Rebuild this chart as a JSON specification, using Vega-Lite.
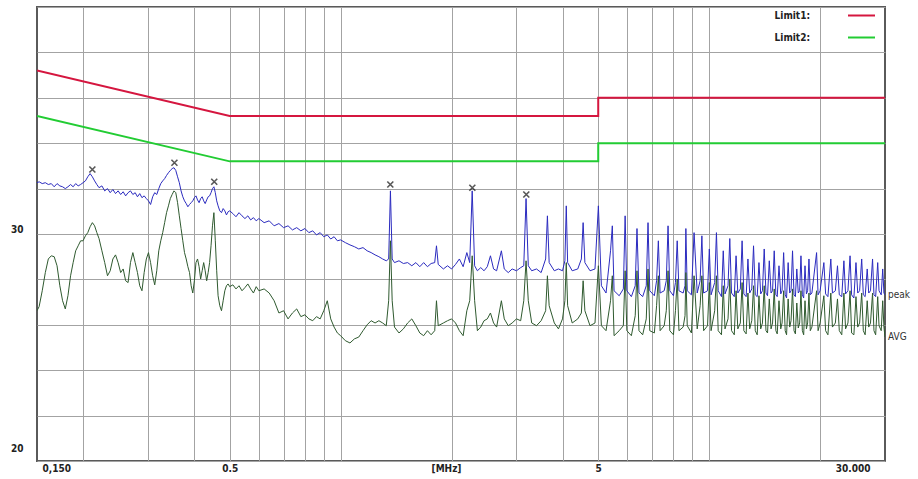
{
"$schema":"https://vega.github.io/schema/vega-lite/v6.json",
"width":848,"height":454,
"autosize":{"type":"none"},
"padding":{"left":37,"top":7,"right":33,"bottom":18},
"background":"white",
"config":{"view":{"stroke":"#5a5a5a","strokeWidth":2},"font":"DejaVu Sans Condensed"},
"datasets":{
"limits":[
{"i":1,"f":0.15,"v":66,"lim":"Limit1:"},{"i":2,"f":0.5,"v":56,"lim":"Limit1:"},{"i":3,"f":5,"v":56,"lim":"Limit1:"},{"i":4,"f":5,"v":60,"lim":"Limit1:"},{"i":5,"f":30,"v":60,"lim":"Limit1:"},
{"i":1,"f":0.15,"v":56,"lim":"Limit2:"},{"i":2,"f":0.5,"v":46,"lim":"Limit2:"},{"i":3,"f":5,"v":46,"lim":"Limit2:"},{"i":4,"f":5,"v":50,"lim":"Limit2:"},{"i":5,"f":30,"v":50,"lim":"Limit2:"}],
"peaks":[{"f":0.212,"v":44.2},{"f":0.354,"v":45.7},{"f":0.454,"v":41.5},{"f":1.364,"v":40.9},{"f":2.277,"v":40.2},{"f":3.19,"v":38.7}],
"traces":[
{"f":0.150,"peak":41.3,"AVG":13.1},{"f":0.152,"peak":41.5,"AVG":14.0},{"f":0.155,"peak":41.1,"AVG":17.5},{"f":0.158,"peak":41.3,"AVG":21.5},
{"f":0.161,"peak":40.9,"AVG":24.5},{"f":0.164,"peak":41.1,"AVG":25.2},{"f":0.167,"peak":40.4,"AVG":25.0},{"f":0.170,"peak":41.1,"AVG":23.0},
{"f":0.173,"peak":40.6,"AVG":18.6},{"f":0.176,"peak":40.4,"AVG":15.3},{"f":0.179,"peak":40.0,"AVG":13.5},{"f":0.182,"peak":40.4,"AVG":16.4},
{"f":0.185,"peak":40.9,"AVG":20.8},{"f":0.188,"peak":40.4,"AVG":23.7},{"f":0.191,"peak":41.1,"AVG":26.3},{"f":0.194,"peak":40.6,"AVG":27.4},
{"f":0.197,"peak":40.9,"AVG":28.5},{"f":0.200,"peak":41.3,"AVG":28.5},{"f":0.203,"peak":41.7,"AVG":29.6},{"f":0.206,"peak":42.6,"AVG":30.3},
{"f":0.209,"peak":43.3,"AVG":31.6},{"f":0.212,"peak":42.6,"AVG":32.5},{"f":0.215,"peak":41.7,"AVG":31.8},{"f":0.218,"peak":40.9,"AVG":30.3},
{"f":0.221,"peak":40.2,"AVG":29.0},{"f":0.225,"peak":40.6,"AVG":26.3},{"f":0.229,"peak":39.5,"AVG":23.7},{"f":0.233,"peak":40.0,"AVG":20.8},
{"f":0.237,"peak":39.1,"AVG":21.9},{"f":0.241,"peak":39.8,"AVG":24.5},{"f":0.245,"peak":38.9,"AVG":25.4},{"f":0.249,"peak":39.5,"AVG":23.7},
{"f":0.253,"peak":38.7,"AVG":21.5},{"f":0.257,"peak":39.3,"AVG":22.3},{"f":0.261,"peak":38.4,"AVG":19.7},{"f":0.265,"peak":39.1,"AVG":19.3},
{"f":0.269,"peak":39.5,"AVG":23.7},{"f":0.273,"peak":38.7,"AVG":25.9},{"f":0.277,"peak":39.1,"AVG":23.7},{"f":0.281,"peak":38.2,"AVG":21.5},
{"f":0.285,"peak":38.9,"AVG":18.6},{"f":0.289,"peak":38.0,"AVG":17.5},{"f":0.293,"peak":38.4,"AVG":21.5},{"f":0.297,"peak":37.8,"AVG":24.5},
{"f":0.301,"peak":37.3,"AVG":25.9},{"f":0.305,"peak":36.5,"AVG":23.7},{"f":0.309,"peak":38.2,"AVG":20.8},{"f":0.313,"peak":39.1,"AVG":18.8},
{"f":0.317,"peak":38.7,"AVG":21.9},{"f":0.321,"peak":40.0,"AVG":26.3},{"f":0.325,"peak":41.1,"AVG":28.5},{"f":0.329,"peak":41.7,"AVG":30.3},
{"f":0.333,"peak":42.2,"AVG":32.5},{"f":0.337,"peak":42.9,"AVG":34.7},{"f":0.341,"peak":43.5,"AVG":36.2},{"f":0.345,"peak":44.0,"AVG":37.8},
{"f":0.349,"peak":44.4,"AVG":38.7},{"f":0.353,"peak":44.6,"AVG":39.5},{"f":0.357,"peak":44.0,"AVG":39.1},{"f":0.361,"peak":42.6,"AVG":36.9},
{"f":0.365,"peak":41.3,"AVG":34.0},{"f":0.369,"peak":39.5,"AVG":31.2},{"f":0.373,"peak":38.2,"AVG":28.5},{"f":0.377,"peak":37.3,"AVG":25.9},
{"f":0.381,"peak":36.7,"AVG":24.5},{"f":0.385,"peak":36.0,"AVG":22.8},{"f":0.389,"peak":36.5,"AVG":21.5},{"f":0.393,"peak":36.9,"AVG":18.6},
{"f":0.397,"peak":37.3,"AVG":17.0},{"f":0.401,"peak":38.0,"AVG":19.7},{"f":0.405,"peak":38.4,"AVG":23.7},{"f":0.409,"peak":37.5,"AVG":24.5},
{"f":0.413,"peak":36.9,"AVG":22.8},{"f":0.417,"peak":37.8,"AVG":20.1},{"f":0.421,"peak":38.2,"AVG":21.9},{"f":0.425,"peak":37.3,"AVG":23.7},
{"f":0.429,"peak":36.7,"AVG":21.9},{"f":0.433,"peak":37.5,"AVG":19.7},{"f":0.437,"peak":38.2,"AVG":21.5},{"f":0.441,"peak":38.4,"AVG":23.7},
{"f":0.445,"peak":39.1,"AVG":27.4},{"f":0.449,"peak":40.0,"AVG":31.8},{"f":0.453,"peak":40.4,"AVG":34.7},{"f":0.457,"peak":39.1,"AVG":28.5},
{"f":0.461,"peak":37.3,"AVG":21.9},{"f":0.465,"peak":36.2,"AVG":16.4},{"f":0.470,"peak":35.1,"AVG":14.2},{"f":0.475,"peak":34.7,"AVG":13.1},
{"f":0.480,"peak":35.6,"AVG":15.3},{"f":0.485,"peak":35.1,"AVG":17.5},{"f":0.490,"peak":34.2,"AVG":18.6},{"f":0.495,"peak":34.9,"AVG":19.0},
{"f":0.500,"peak":35.1,"AVG":18.4},{"f":0.51,"peak":34.5,"AVG":18.8},{"f":0.52,"peak":33.8,"AVG":17.9},{"f":0.53,"peak":34.7,"AVG":18.6},
{"f":0.54,"peak":34.0,"AVG":17.5},{"f":0.55,"peak":33.4,"AVG":18.2},{"f":0.56,"peak":34.0,"AVG":19.0},{"f":0.57,"peak":33.1,"AVG":17.9},
{"f":0.58,"peak":33.6,"AVG":17.0},{"f":0.59,"peak":32.9,"AVG":18.4},{"f":0.60,"peak":33.4,"AVG":17.5},{"f":0.62,"peak":32.5,"AVG":17.9},
{"f":0.64,"peak":32.9,"AVG":17.0},{"f":0.66,"peak":31.8,"AVG":15.3},{"f":0.68,"peak":32.3,"AVG":12.6},{"f":0.70,"peak":31.4,"AVG":13.1},
{"f":0.72,"peak":31.8,"AVG":11.3},{"f":0.74,"peak":30.9,"AVG":12.6},{"f":0.76,"peak":31.4,"AVG":13.5},{"f":0.78,"peak":30.7,"AVG":11.8},
{"f":0.80,"peak":31.2,"AVG":12.2},{"f":0.82,"peak":30.3,"AVG":11.3},{"f":0.84,"peak":30.7,"AVG":10.9},{"f":0.86,"peak":29.8,"AVG":11.8},
{"f":0.88,"peak":30.3,"AVG":11.3},{"f":0.90,"peak":29.4,"AVG":13.1},{"f":0.92,"peak":29.8,"AVG":15.3},{"f":0.94,"peak":28.9,"AVG":11.3},
{"f":0.96,"peak":29.4,"AVG":9.5},{"f":0.98,"peak":28.5,"AVG":8.2},{"f":1.00,"peak":28.7,"AVG":7.6},{"f":1.03,"peak":28.1,"AVG":6.5},
{"f":1.06,"peak":27.6,"AVG":6.0},{"f":1.09,"peak":27.2,"AVG":6.9},{"f":1.12,"peak":26.7,"AVG":7.3},{"f":1.15,"peak":27.0,"AVG":8.7},
{"f":1.18,"peak":26.3,"AVG":10.0},{"f":1.21,"peak":25.9,"AVG":10.9},{"f":1.24,"peak":25.4,"AVG":10.4},{"f":1.27,"peak":25.0,"AVG":10.9},
{"f":1.30,"peak":24.5,"AVG":10.4},{"f":1.33,"peak":24.1,"AVG":9.8},{"f":1.35,"peak":24.5,"AVG":15.3},{"f":1.365,"peak":39.5,"AVG":28.5},
{"f":1.38,"peak":24.5,"AVG":15.3},{"f":1.40,"peak":23.7,"AVG":9.5},{"f":1.44,"peak":24.1,"AVG":8.2},{"f":1.48,"peak":23.5,"AVG":9.1},
{"f":1.52,"peak":23.7,"AVG":10.4},{"f":1.56,"peak":23.0,"AVG":11.3},{"f":1.60,"peak":23.7,"AVG":9.8},{"f":1.64,"peak":22.8,"AVG":8.2},
{"f":1.68,"peak":23.7,"AVG":7.6},{"f":1.72,"peak":22.8,"AVG":8.7},{"f":1.76,"peak":23.5,"AVG":7.8},{"f":1.80,"peak":23.7,"AVG":8.7},
{"f":1.82,"peak":27.4,"AVG":15.3},{"f":1.84,"peak":23.3,"AVG":9.8},{"f":1.90,"peak":22.3,"AVG":10.4},{"f":1.95,"peak":23.0,"AVG":10.9},
{"f":2.00,"peak":22.3,"AVG":11.3},{"f":2.05,"peak":23.3,"AVG":10.4},{"f":2.10,"peak":24.5,"AVG":8.7},{"f":2.15,"peak":22.8,"AVG":7.6},
{"f":2.20,"peak":25.9,"AVG":13.1},{"f":2.24,"peak":23.7,"AVG":15.3},{"f":2.275,"peak":39.5,"AVG":25.2},{"f":2.31,"peak":23.0,"AVG":15.3},
{"f":2.35,"peak":21.9,"AVG":8.7},{"f":2.40,"peak":22.6,"AVG":9.5},{"f":2.45,"peak":21.9,"AVG":10.9},{"f":2.50,"peak":22.8,"AVG":11.3},
{"f":2.55,"peak":25.2,"AVG":12.6},{"f":2.60,"peak":22.3,"AVG":10.4},{"f":2.65,"peak":21.9,"AVG":9.5},{"f":2.73,"peak":26.3,"AVG":15.3},
{"f":2.78,"peak":22.3,"AVG":11.3},{"f":2.85,"peak":21.5,"AVG":9.8},{"f":2.92,"peak":22.3,"AVG":10.4},{"f":3.00,"peak":21.9,"AVG":11.3},
{"f":3.08,"peak":22.6,"AVG":10.9},{"f":3.14,"peak":23.0,"AVG":15.3},{"f":3.185,"peak":37.8,"AVG":24.1},{"f":3.23,"peak":23.0,"AVG":15.3},
{"f":3.30,"peak":21.9,"AVG":10.4},{"f":3.40,"peak":22.3,"AVG":9.8},{"f":3.50,"peak":21.5,"AVG":10.9},{"f":3.60,"peak":24.5,"AVG":13.1},
{"f":3.64,"peak":34.0,"AVG":20.8},{"f":3.68,"peak":23.7,"AVG":14.2},{"f":3.80,"peak":21.9,"AVG":10.4},{"f":3.90,"peak":22.3,"AVG":9.1},
{"f":4.00,"peak":21.9,"AVG":11.3},{"f":4.06,"peak":24.1,"AVG":15.3},{"f":4.095,"peak":36.2,"AVG":23.7},{"f":4.13,"peak":23.7,"AVG":14.2},
{"f":4.25,"peak":21.9,"AVG":10.4},{"f":4.40,"peak":22.3,"AVG":11.3},{"f":4.50,"peak":24.5,"AVG":12.6},{"f":4.55,"peak":32.5,"AVG":19.7},
{"f":4.60,"peak":23.7,"AVG":13.1},{"f":4.75,"peak":21.9,"AVG":9.8},{"f":4.90,"peak":22.3,"AVG":10.4},{"f":5.005,"peak":36.2,"AVG":23.0},
{"f":5.10,"peak":18.6,"AVG":9.8},{"f":5.25,"peak":17.0,"AVG":8.7},{"f":5.40,"peak":26.3,"AVG":15.3},{"f":5.46,"peak":31.8,"AVG":20.8},
{"f":5.52,"peak":17.5,"AVG":7.6},{"f":5.70,"peak":16.4,"AVG":8.7},{"f":5.85,"peak":17.9,"AVG":9.8},{"f":5.915,"peak":34.0,"AVG":21.9},
{"f":5.98,"peak":17.5,"AVG":8.7},{"f":6.15,"peak":16.2,"AVG":7.6},{"f":6.30,"peak":18.6,"AVG":12.0},{"f":6.37,"peak":31.2,"AVG":21.9},
{"f":6.45,"peak":17.0,"AVG":8.7},{"f":6.60,"peak":16.2,"AVG":7.8},{"f":6.75,"peak":18.6,"AVG":11.3},{"f":6.825,"peak":32.5,"AVG":22.3},
{"f":6.90,"peak":17.5,"AVG":8.7},{"f":7.10,"peak":16.4,"AVG":8.2},{"f":7.20,"peak":19.7,"AVG":14.2},{"f":7.28,"peak":28.5,"AVG":20.8},
{"f":7.36,"peak":17.0,"AVG":8.7},{"f":7.55,"peak":17.5,"AVG":9.8},{"f":7.65,"peak":19.7,"AVG":13.1},{"f":7.735,"peak":31.8,"AVG":21.9},
{"f":7.82,"peak":17.5,"AVG":8.7},{"f":8.00,"peak":16.4,"AVG":7.8},{"f":8.10,"peak":19.3,"AVG":13.1},{"f":8.19,"peak":28.5,"AVG":20.1},
{"f":8.28,"peak":17.5,"AVG":8.7},{"f":8.50,"peak":17.0,"AVG":9.5},{"f":8.60,"peak":18.6,"AVG":12.0},{"f":8.645,"peak":31.2,"AVG":21.5},
{"f":8.72,"peak":17.5,"AVG":9.8},{"f":8.95,"peak":16.6,"AVG":8.2},{"f":9.10,"peak":30.3,"AVG":20.8},{"f":9.28,"peak":17.0,"AVG":9.1},
{"f":9.45,"peak":19.7,"AVG":14.2},{"f":9.555,"peak":29.6,"AVG":20.8},{"f":9.66,"peak":17.0,"AVG":8.7},{"f":9.90,"peak":17.5,"AVG":9.8},
{"f":10.01,"peak":26.7,"AVG":19.3},{"f":10.12,"peak":16.6,"AVG":8.7},{"f":10.35,"peak":19.3,"AVG":13.1},{"f":10.465,"peak":30.3,"AVG":20.8},
{"f":10.58,"peak":17.5,"AVG":8.7},{"f":10.80,"peak":16.2,"AVG":7.8},{"f":10.92,"peak":26.3,"AVG":18.6},{"f":11.04,"peak":16.8,"AVG":9.1},
{"f":11.25,"peak":18.6,"AVG":11.3},{"f":11.375,"peak":29.0,"AVG":20.1},{"f":11.50,"peak":17.0,"AVG":8.7},{"f":11.70,"peak":16.2,"AVG":7.8},
{"f":11.83,"peak":25.2,"AVG":17.5},{"f":11.96,"peak":17.0,"AVG":9.1},{"f":12.15,"peak":17.9,"AVG":10.4},{"f":12.285,"peak":28.5,"AVG":19.3},
{"f":12.42,"peak":16.8,"AVG":8.7},{"f":12.60,"peak":16.2,"AVG":8.0},{"f":12.74,"peak":24.5,"AVG":17.0},{"f":12.88,"peak":17.0,"AVG":9.1},
{"f":13.05,"peak":17.9,"AVG":10.9},{"f":13.195,"peak":27.4,"AVG":18.6},{"f":13.34,"peak":16.6,"AVG":8.7},{"f":13.50,"peak":16.2,"AVG":7.8},
{"f":13.65,"peak":23.7,"AVG":16.4},{"f":13.80,"peak":16.8,"AVG":9.1},{"f":13.95,"peak":17.5,"AVG":10.4},{"f":14.105,"peak":26.7,"AVG":18.6},
{"f":14.26,"peak":17.0,"AVG":8.7},{"f":14.40,"peak":16.4,"AVG":8.2},{"f":14.56,"peak":24.1,"AVG":15.7},{"f":14.72,"peak":17.0,"AVG":9.1},
{"f":14.86,"peak":17.5,"AVG":10.4},{"f":15.015,"peak":26.3,"AVG":17.9},{"f":15.17,"peak":16.6,"AVG":8.7},{"f":15.30,"peak":16.2,"AVG":8.0},
{"f":15.47,"peak":23.0,"AVG":15.3},{"f":15.64,"peak":16.8,"AVG":9.1},{"f":15.77,"peak":17.5,"AVG":10.4},{"f":15.925,"peak":25.9,"AVG":17.5},
{"f":16.08,"peak":16.6,"AVG":8.7},{"f":16.22,"peak":15.9,"AVG":7.8},{"f":16.38,"peak":23.7,"AVG":15.7},{"f":16.54,"peak":17.0,"AVG":9.5},
{"f":16.68,"peak":17.5,"AVG":10.9},{"f":16.835,"peak":26.3,"AVG":17.9},{"f":16.99,"peak":16.6,"AVG":8.7},{"f":17.14,"peak":16.2,"AVG":8.0},
{"f":17.29,"peak":22.3,"AVG":14.8},{"f":17.45,"peak":17.0,"AVG":9.3},{"f":17.60,"peak":17.5,"AVG":10.4},{"f":17.745,"peak":25.2,"AVG":17.5},
{"f":17.90,"peak":16.6,"AVG":8.7},{"f":18.05,"peak":15.9,"AVG":7.8},{"f":18.20,"peak":23.0,"AVG":15.3},{"f":18.36,"peak":16.8,"AVG":9.1},
{"f":18.50,"peak":17.5,"AVG":10.4},{"f":18.655,"peak":24.5,"AVG":17.0},{"f":18.81,"peak":16.6,"AVG":8.7},{"f":19.0,"peak":17.0,"AVG":9.5},
{"f":19.565,"peak":25.9,"AVG":17.5},{"f":19.75,"peak":16.6,"AVG":8.7},{"f":20.0,"peak":17.5,"AVG":10.4},{"f":20.475,"peak":23.7,"AVG":16.4},
{"f":20.70,"peak":16.8,"AVG":8.7},{"f":21.0,"peak":16.2,"AVG":7.8},{"f":21.385,"peak":24.5,"AVG":17.0},{"f":21.60,"peak":17.0,"AVG":9.5},
{"f":22.0,"peak":17.5,"AVG":10.4},{"f":22.295,"peak":23.0,"AVG":15.7},{"f":22.55,"peak":16.6,"AVG":8.7},{"f":22.9,"peak":16.2,"AVG":7.8},
{"f":23.205,"peak":24.1,"AVG":17.0},{"f":23.45,"peak":16.8,"AVG":9.1},{"f":23.8,"peak":17.5,"AVG":10.4},{"f":24.115,"peak":25.2,"AVG":17.5},
{"f":24.35,"peak":16.6,"AVG":8.2},{"f":24.7,"peak":15.9,"AVG":7.8},{"f":25.025,"peak":23.7,"AVG":16.2},{"f":25.30,"peak":17.0,"AVG":9.5},
{"f":25.6,"peak":17.5,"AVG":10.4},{"f":25.935,"peak":24.5,"AVG":17.0},{"f":26.2,"peak":16.6,"AVG":8.7},{"f":26.5,"peak":16.2,"AVG":7.8},
{"f":26.845,"peak":22.3,"AVG":15.3},{"f":27.1,"peak":17.0,"AVG":9.5},{"f":27.4,"peak":17.5,"AVG":10.4},{"f":27.755,"peak":24.5,"AVG":17.0},
{"f":28.0,"peak":16.6,"AVG":8.7},{"f":28.3,"peak":16.2,"AVG":7.8},{"f":28.665,"peak":23.7,"AVG":16.2},{"f":28.9,"peak":17.5,"AVG":9.8},
{"f":29.3,"peak":16.6,"AVG":8.7},{"f":29.575,"peak":22.3,"AVG":15.3},{"f":29.8,"peak":17.0,"AVG":9.5},{"f":30.0,"peak":16.6,"AVG":7.3}
]},
"resolve":{"axis":{"x":"independent"}},
"layer":[
{"data":{"name":"traces"},
 "mark":{"type":"line","color":"#2b2bbf","strokeWidth":1,"clip":true},
 "encoding":{
  "x":{"field":"f","type":"quantitative","title":null,
   "scale":{"type":"log","domain":[0.15,30],"nice":false},
   "axis":{"orient":"top","values":[0.2,0.3,0.4,0.5,0.6,0.7,0.8,0.9,1,2,3,4,5,6,7,8,9,10,20],"grid":true,"gridColor":"#a3a3a3","gridWidth":1,"labels":false,"ticks":false,"domain":false,"title":null}},
  "y":{"field":"peak","type":"quantitative","title":null,
   "scale":{"domain":[-20,80],"nice":false,"zero":false},
   "axis":{"values":[-20,-10,0,10,20,30,40,50,60,70,80],"grid":true,"gridColor":"#a3a3a3","gridWidth":1,"ticks":false,"domain":false,"title":null,
    "labelExpr":"datum.value == 30 ? '30' : (datum.value == -20 ? '20' : '')",
    "labelFont":"DejaVu Sans Condensed","labelFontWeight":"bold","labelFontSize":10,"labelColor":"#222222","labelPadding":14,"labelBaseline":"bottom",
    "labelOffset":{"condition":{"test":"datum.value == -20","value":-8},"value":0}}}}},
{"data":{"name":"traces"},
 "mark":{"type":"line","color":"#2f5a2f","strokeWidth":1,"clip":true},
 "encoding":{
  "x":{"field":"f","type":"quantitative","title":null,"axis":null},
  "y":{"field":"AVG","type":"quantitative","title":null}}},
{"data":{"name":"limits"},
 "mark":{"type":"line","strokeWidth":2,"clip":true},
 "encoding":{
  "x":{"field":"f","type":"quantitative","title":null,
   "axis":{"orient":"bottom","values":[0.15,0.5,5,30],"grid":false,"ticks":false,"domain":false,
    "labelExpr":"datum.value < 0.2 ? '0,150' : (datum.value < 1 ? '0.5' : (datum.value < 10 ? '5' : '30.000'))",
    "labelFont":"DejaVu Sans Condensed","labelFontWeight":"bold","labelFontSize":10,"labelColor":"#222222","labelPadding":2,
    "labelOffset":{"condition":[{"test":"datum.value < 0.2","value":5},{"test":"datum.value > 20","value":-15}],"value":0},
    "title":"[MHz]","titleFont":"DejaVu Sans Condensed","titleFontWeight":"bold","titleFontSize":10,"titleColor":"#222222",
    "titleX":409,"titleY":7,"titleBaseline":"middle","titleAlign":"center"}},
  "y":{"field":"v","type":"quantitative","title":null},
  "order":{"field":"i","type":"quantitative"},
  "color":{"field":"lim","type":"nominal",
   "scale":{"domain":["Limit1:","Limit2:"],"range":["#d5163f","#22cc33"]},
   "legend":{"orient":"none","legendX":810,"legendY":-6,"title":null,"symbolType":"stroke","symbolStrokeWidth":2,"symbolSize":729,
    "labelFont":"DejaVu Sans Condensed","labelFontWeight":"bold","labelFontSize":10,"labelColor":"#222222",
    "labelAlign":"right","labelOffset":-66,"rowPadding":2}}}},
{"data":{"name":"peaks"},
 "mark":{"type":"point","shape":"M-1,-1L1,1M1,-1L-1,1","filled":false,"color":"#111111","strokeWidth":1.6,"size":36},
 "encoding":{
  "x":{"field":"f","type":"quantitative","title":null,"axis":null},
  "y":{"field":"v","type":"quantitative","title":null}}},
{"data":{"name":"traces"},
 "transform":[{"filter":"datum.f == 30"},{"fold":["peak","AVG"],"as":["series","val"]}],
 "mark":{"type":"text","align":"left","dx":3,"fontSize":10,"font":"DejaVu Sans Condensed","color":"#333333"},
 "encoding":{
  "x":{"field":"f","type":"quantitative","title":null,"axis":null},
  "y":{"field":"val","type":"quantitative","title":null},
  "text":{"field":"series"}}}
]}
